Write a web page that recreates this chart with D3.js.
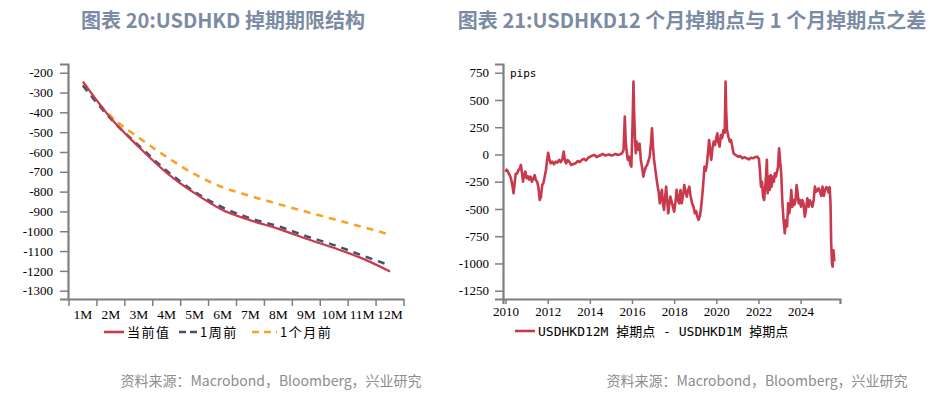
<!DOCTYPE html>
<html>
<head>
<meta charset="utf-8">
<script src="https://cdn.jsdelivr.net/npm/d3@7"></script>
<style>
  body { margin: 0; background: #fff; }
  svg { display: block; }
</style>
</head>
<body>
<svg width="943" height="397"></svg>
<script>
// left chart data: USDHKD swap points by tenor
const tenors = ['1M','2M','3M','4M','5M','6M','7M','8M','9M','10M','11M','12M'];
const current = [-245, -430, -575, -705, -808, -893, -945, -988, -1038, -1085, -1137, -1203];
const weekAgo = [-266, -433, -568, -695, -800, -880, -935, -975, -1025, -1070, -1122, -1173];
const monthAgo = [-258, -420, -528, -625, -712, -778, -822, -863, -902, -940, -978, -1017];
const leftTicks = [-200,-300,-400,-500,-600,-700,-800,-900,-1000,-1100,-1200,-1300];

// right chart data: 12M minus 1M swap points (decimal year, pips), one row per year
const years = [
  2010.00,2010.05,2010.10,2010.15,2010.20,2010.27,2010.33,2010.38,2010.43,2010.48,2010.55,2010.62,2010.68,2010.73,2010.78,2010.83,2010.88,2010.94,
  2011.00,2011.06,2011.12,2011.18,2011.25,2011.32,2011.38,2011.44,2011.50,2011.56,2011.62,2011.68,2011.74,2011.80,2011.86,2011.92,2011.97,
  2012.02,2012.08,2012.14,2012.22,2012.30,2012.38,2012.46,2012.54,2012.62,2012.70,2012.76,2012.82,2012.88,2012.94,
  2013.02,2013.12,2013.22,2013.32,2013.42,2013.52,2013.62,2013.72,2013.82,2013.92,
  2014.02,2014.12,2014.22,2014.32,2014.42,2014.52,2014.62,2014.72,2014.82,2014.92,
  2015.02,2015.12,2015.22,2015.32,2015.42,2015.52,2015.60,2015.66,2015.70,2015.74,2015.80,2015.86,2015.92,2015.97,
  2016.03,2016.07,2016.10,2016.14,2016.18,2016.22,2016.27,2016.31,2016.36,2016.42,2016.48,2016.54,2016.60,2016.66,2016.72,2016.78,2016.84,2016.90,2016.95,
  2017.00,2017.05,2017.11,2017.17,2017.22,2017.27,2017.32,2017.37,2017.42,2017.47,2017.52,2017.57,2017.62,2017.67,2017.72,2017.77,2017.82,2017.88,2017.94,
  2018.00,2018.06,2018.12,2018.18,2018.24,2018.30,2018.36,2018.42,2018.48,2018.54,2018.60,2018.66,2018.72,2018.78,2018.85,2018.92,2018.98,
  2019.04,2019.10,2019.16,2019.23,2019.30,2019.37,2019.44,2019.50,2019.56,2019.62,2019.66,2019.71,2019.76,2019.82,2019.88,2019.94,
  2020.00,2020.05,2020.10,2020.16,2020.22,2020.28,2020.34,2020.40,2020.44,2020.47,2020.51,2020.58,2020.64,2020.70,2020.76,2020.82,2020.90,2020.96,
  2021.04,2021.14,2021.24,2021.34,2021.44,2021.54,2021.64,2021.74,2021.84,2021.94,
  2022.02,2022.07,2022.12,2022.17,2022.22,2022.27,2022.32,2022.36,2022.40,2022.44,2022.49,2022.54,2022.58,2022.63,2022.68,2022.73,2022.78,2022.83,2022.88,2022.93,2022.98,
  2023.03,2023.08,2023.13,2023.19,2023.25,2023.31,2023.36,2023.41,2023.46,2023.51,2023.56,2023.61,2023.66,2023.71,2023.76,2023.81,2023.86,2023.91,2023.96,
  2024.02,2024.08,2024.14,2024.20,2024.26,2024.32,2024.38,2024.44,2024.50,2024.56,2024.62,2024.68,2024.74,2024.80,2024.86,2024.92,2024.98,
  2025.04,2025.10,2025.16,2025.22,2025.28,2025.33,2025.38,2025.42,2025.45,2025.49,2025.52,2025.56,2025.60
];
const spread = [
  -160,-140,-150,-175,-190,-230,-290,-356,-270,-180,-175,-140,-130,-96,-170,-249,-190,-157,
  -218,-200,-230,-203,-250,-220,-190,-235,-249,-300,-417,-390,-280,-260,-203,-140,-60,
  15,-40,-81,-66,-90,-66,-75,-50,-70,-40,26,-60,-81,-50,
  -66,-96,-88,-81,-60,-70,-50,-40,-55,-30,
  -20,-10,-4,-25,-14,-5,5,-10,-4,0,
  -10,-4,5,-5,0,11,40,347,130,41,-50,-20,-90,-112,
  300,668,400,164,11,118,60,41,100,-50,-120,-203,-150,-112,-96,-60,-20,100,240,
  60,-50,-142,-230,-295,-350,-448,-370,-325,-450,-509,-400,-295,-420,-540,-460,-387,-430,-479,
  -525,-440,-325,-420,-448,-326,-448,-380,-281,-340,-387,-330,-295,-380,-448,-480,-540,
  -520,-570,-600,-560,-448,-300,-112,-150,-81,50,133,30,-50,60,118,87,
  150,194,110,72,179,150,225,200,668,400,225,160,118,133,70,11,-4,-10,
  -20,-15,-35,-25,-35,-45,-30,-35,-25,-20,
  -40,-142,-295,-250,-387,-418,-300,-200,-50,-356,-203,-326,-188,-295,-203,-250,-173,-203,-160,-112,56,
  -60,-173,-418,-600,-723,-601,-660,-448,-540,-480,-326,-479,-418,-460,-418,-280,-350,-448,-418,
  -480,-418,-450,-570,-500,-402,-479,-420,-448,-480,-420,-295,-341,-330,-310,-341,-380,
  -295,-380,-326,-300,-310,-350,-300,-450,-800,-1000,-1029,-880,-980
];
const rightTicks = [750, 500, 250, 0, -250, -500, -750, -1000, -1250];
const yearTicks = [2010, 2012, 2014, 2016, 2018, 2020, 2022, 2024];

const svg = d3.select('svg');
const red = '#c9394d', navy = '#44546a', orange = '#f8a323';
const axisCol = '#7f7f7f';
const serif = '"Liberation Serif", "DejaVu Serif", serif';
const cjk = '"Noto Sans CJK SC", "Noto Sans", sans-serif';

// titles and sources
svg.append('text').attr('x', 223).attr('y', 28).attr('text-anchor', 'middle')
  .attr('font-family', cjk).attr('font-weight', 'bold').attr('font-size', 20)
  .attr('fill', '#7b8ba4').text('图表 20:USDHKD 掉期期限结构');
svg.append('text').attr('x', 692).attr('y', 28).attr('text-anchor', 'middle')
  .attr('font-family', cjk).attr('font-weight', 'bold').attr('font-size', 20)
  .attr('fill', '#7b8ba4').text('图表 21:USDHKD12 个月掉期点与 1 个月掉期点之差');
[271, 757].forEach(cx => {
  svg.append('text').attr('x', cx).attr('y', 386).attr('text-anchor', 'middle')
    .attr('font-family', cjk).attr('font-size', 14).attr('fill', '#8c8c8c')
    .text('资料来源：Macrobond，Bloomberg，兴业研究');
});

// ---------- left chart ----------
const xL = d3.scaleBand().domain(tenors).range([69, 404]);
const yL = d3.scaleLinear().domain([-1342, -156]).range([299, 64]);
const left = svg.append('g');

const yAxisL = left.append('g').attr('transform', 'translate(68,0)')
  .call(d3.axisLeft(yL).tickValues(leftTicks).tickSize(8).tickPadding(7));
yAxisL.select('.domain').attr('stroke', axisCol).attr('stroke-width', 2.2);
yAxisL.selectAll('.tick line').attr('stroke', axisCol).attr('stroke-width', 1.5);
yAxisL.selectAll('.tick text').attr('font-family', serif).attr('font-size', 13).attr('fill', '#000')
  .text(d => String(d));

const xAxisL = left.append('g').attr('transform', 'translate(0,299)')
  .call(d3.axisBottom(xL).tickSize(0).tickPadding(10));
xAxisL.select('.domain').attr('stroke', axisCol).attr('stroke-width', 2.2);
xAxisL.selectAll('text').attr('font-family', serif).attr('font-size', 13.5).attr('fill', '#000');
left.append('g').selectAll('line').data(tenors.map(t => xL(t)).concat([xL.range()[1]])).join('line')
  .attr('x1', d => d).attr('x2', d => d).attr('y1', 299).attr('y2', 306)
  .attr('stroke', axisCol).attr('stroke-width', 1.5);

const lineL = d3.line().x((d, i) => xL(tenors[i]) + xL.bandwidth() / 2).y(d => yL(d)).curve(d3.curveMonotoneX);
left.append('path').datum(monthAgo).attr('d', lineL).attr('fill', 'none')
  .attr('stroke', orange).attr('stroke-width', 2.6).attr('stroke-dasharray', '7,6');
left.append('path').datum(weekAgo).attr('d', lineL).attr('fill', 'none')
  .attr('stroke', navy).attr('stroke-width', 2.6).attr('stroke-dasharray', '7,6');
left.append('path').datum(current).attr('d', lineL).attr('fill', 'none')
  .attr('stroke', red).attr('stroke-width', 2.2);

// legend
const legL = [
  { x: 104, w: 20, color: red, dash: null, label: '当前值' },
  { x: 179, w: 18, color: navy, dash: '7,4', label: '1周前' },
  { x: 252, w: 25, color: orange, dash: '7,5', label: '1个月前' }
];
legL.forEach(d => {
  left.append('line').attr('x1', d.x).attr('x2', d.x + d.w).attr('y1', 332).attr('y2', 332)
    .attr('stroke', d.color).attr('stroke-width', 2.6).attr('stroke-dasharray', d.dash);
  left.append('text').attr('x', d.x + d.w + 3).attr('y', 337).attr('font-family', cjk)
    .attr('font-size', 13).attr('letter-spacing', 1.5).attr('fill', '#000').text(d.label);
});

// ---------- right chart ----------
const xR = d3.scaleLinear().domain([2009.88, 2025.87]).range([503, 840]);
const yR = d3.scaleLinear().domain([-1326, 830]).range([299, 64]);
const right = svg.append('g');

const yAxisR = right.append('g').attr('transform', 'translate(503,0)')
  .call(d3.axisLeft(yR).tickValues(rightTicks).tickSize(8).tickPadding(6));
yAxisR.select('.domain').attr('stroke', axisCol).attr('stroke-width', 2.2);
yAxisR.selectAll('.tick line').attr('stroke', axisCol).attr('stroke-width', 1.5);
yAxisR.selectAll('.tick text').attr('font-family', serif).attr('font-size', 13).attr('fill', '#000')
  .text(d => String(d));

const xAxisR = right.append('g').attr('transform', 'translate(0,299)')
  .call(d3.axisBottom(xR).tickValues(yearTicks).tickSize(5).tickPadding(3).tickFormat(d3.format('d')));
xAxisR.select('.domain').attr('stroke', axisCol).attr('stroke-width', 2.2);
xAxisR.selectAll('.tick line').attr('stroke', axisCol).attr('stroke-width', 1.5);
xAxisR.selectAll('text').attr('font-family', serif).attr('font-size', 13).attr('fill', '#000');

right.append('text').attr('x', 510).attr('y', 77).attr('font-family', '"DejaVu Sans Mono", monospace')
  .attr('font-size', 11).attr('fill', '#000').text('pips');

const lineR = d3.line().x((d, i) => xR(years[i])).y(d => yR(d));
right.append('path').datum(spread).attr('d', lineR).attr('fill', 'none')
  .attr('stroke', red).attr('stroke-width', 2.6).attr('stroke-linejoin', 'round');

right.append('line').attr('x1', 515).attr('x2', 535).attr('y1', 331).attr('y2', 331)
  .attr('stroke', red).attr('stroke-width', 2.6);
right.append('text').attr('x', 538).attr('y', 336)
  .attr('font-family', '"DejaVu Sans Mono", "Noto Sans CJK SC", monospace')
  .attr('font-size', 13).attr('fill', '#000').text('USDHKD12M 掉期点 - USDHKD1M 掉期点');
</script>
</body>
</html>
